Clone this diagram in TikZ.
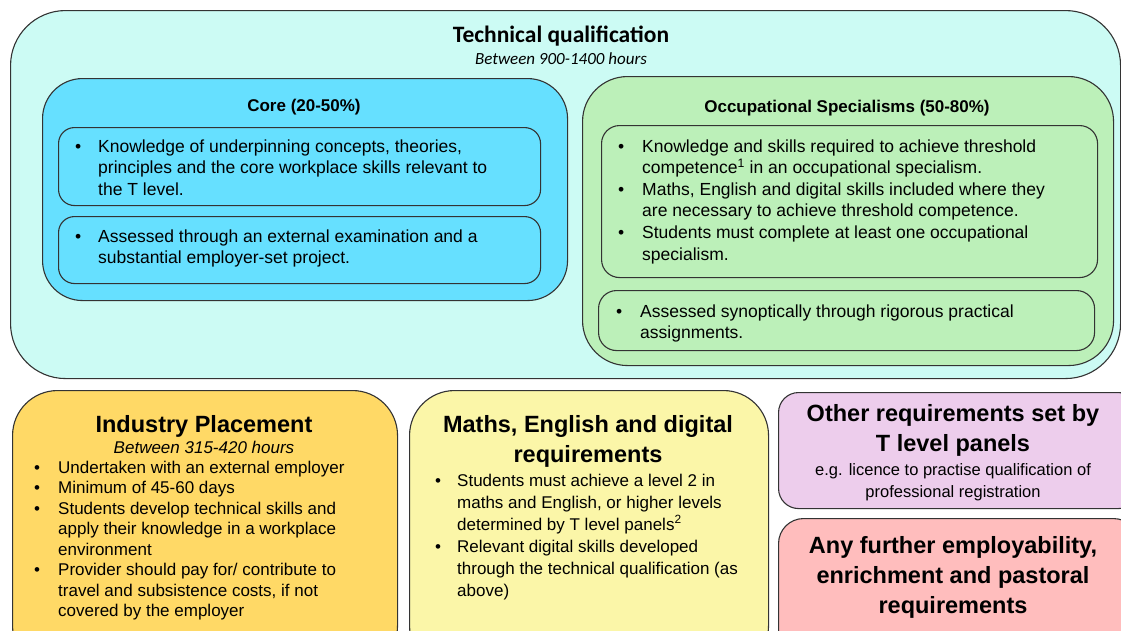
\documentclass[tikz,border=0pt]{standalone}
\usepackage{fontspec}
\setmainfont{Liberation Sans}
\newfontfamily\calibri{Carlito}
\usepackage{tikz}

\definecolor{techbg}{RGB}{204,251,244}
\definecolor{corebg}{RGB}{102,224,255}
\definecolor{occbg}{RGB}{188,240,185}
\definecolor{placebg}{RGB}{255,217,102}
\definecolor{mathsbg}{RGB}{251,246,168}
\definecolor{otherbg}{RGB}{237,205,236}
\definecolor{furtherbg}{RGB}{255,189,189}

\newcommand{\bl}{\textbullet}

\begin{document}
\begin{tikzpicture}[x=1pt,y=-1pt,
  panel/.style={draw=black!80, line width=1.1pt, anchor=north west, inner sep=0pt},
  txt/.style={anchor=base west, inner sep=0pt, align=left},
  head/.style={anchor=base, inner sep=0pt}]
\useasboundingbox (0,0) rectangle (1121,630);
\clip (0,0) rectangle (1121,630);

% technical qualification
\node[panel, fill=techbg, rounded corners=55pt, minimum width=1110pt, minimum height=368pt] (tq) at (10,10) {};
\node[head, font=\calibri\bfseries\fontsize{23.5}{28}\selectfont] (tqtitle) at (561,42) {Technical qualification};
\node[head, font=\calibri\itshape\fontsize{17}{20}\selectfont] (tqhours) at (561,64) {Between 900-1400 hours};

% core
\node[panel, fill=corebg, rounded corners=40pt, minimum width=525pt, minimum height=222pt] (core) at (42,78) {};
\node[panel, rounded corners=16pt, minimum width=482pt, minimum height=78pt] (core1) at (58,127) {};
\node[panel, rounded corners=16pt, minimum width=482pt, minimum height=67pt] (core2) at (58,216) {};
\node[head, font=\bfseries\fontsize{17}{20}\selectfont] (coretitle) at (304,111) {Core (20-50\%)};
\node[txt, font=\fontsize{17.5}{21.6}\selectfont] (coretxt1) at (75,152) {\begin{tabular}[t]{@{}p{23pt}@{}l@{}}
  \bl & Knowledge of underpinning concepts, theories,\\
      & principles and the core workplace skills relevant to\\
      & the T level.\end{tabular}};
\node[txt, font=\fontsize{17.5}{21.6}\selectfont] (coretxt2) at (75,242) {\begin{tabular}[t]{@{}p{23pt}@{}l@{}}
  \bl & Assessed through an external examination and a\\
      & substantial employer-set project.\end{tabular}};

% occupational specialisms
\node[panel, fill=occbg, rounded corners=45pt, minimum width=531pt, minimum height=289pt] (occ) at (582,76) {};
\node[panel, rounded corners=18pt, minimum width=496pt, minimum height=152pt] (occ1) at (601,125) {};
\node[panel, rounded corners=18pt, minimum width=496pt, minimum height=60pt] (occ2) at (598,290) {};
\node[head, font=\bfseries\fontsize{17}{20}\selectfont] (occtitle) at (847,112) {Occupational Specialisms (50-80\%)};
\node[txt, font=\fontsize{17.5}{21.6}\selectfont] (occtxt1) at (618,152) {\begin{tabular}[t]{@{}p{24pt}@{}l@{}}
  \bl & Knowledge and skills required to achieve threshold\\
      & competence\textsuperscript{1} in an occupational specialism.\\
  \bl & Maths, English and digital skills included where they\\
      & are necessary to achieve threshold competence.\\
  \bl & Students must complete at least one occupational\\
      & specialism.\end{tabular}};
\node[txt, font=\fontsize{17.5}{21.6}\selectfont] (occtxt2) at (616,317) {\begin{tabular}[t]{@{}p{24pt}@{}l@{}}
  \bl & Assessed synoptically through rigorous practical\\
      & assignments.\end{tabular}};

% industry placement
\node[panel, fill=placebg, rounded corners=45pt, minimum width=385pt, minimum height=280pt] (place) at (12,390) {};
\node[head, font=\bfseries\fontsize{23.5}{28}\selectfont] (placetitle) at (204,432) {Industry Placement};
\node[head, font=\itshape\fontsize{17}{20}\selectfont] (placehours) at (204,453) {Between 315-420 hours};
\node[txt, font=\fontsize{17}{20.5}\selectfont] (placetxt) at (34,473) {\begin{tabular}[t]{@{}p{24pt}@{}l@{}}
  \bl & Undertaken with an external employer\\
  \bl & Minimum of 45-60 days\\
  \bl & Students develop technical skills and\\
      & apply their knowledge in a workplace\\
      & environment\\
  \bl & Provider should pay for/ contribute to\\
      & travel and subsistence costs, if not\\
      & covered by the employer\end{tabular}};

% maths, english and digital
\node[panel, fill=mathsbg, rounded corners=45pt, minimum width=359pt, minimum height=280pt] (maths) at (409,390) {};
\node[head, font=\bfseries\fontsize{23.5}{30}\selectfont] (mathstitle) at (588,432) {\begin{tabular}[t]{@{}c@{}}
  Maths, English and digital\\ requirements\end{tabular}};
\node[txt, font=\fontsize{17}{22}\selectfont] (mathstxt) at (435,486) {\begin{tabular}[t]{@{}p{22pt}@{}l@{}}
  \bl & Students must achieve a level 2 in\\
      & maths and English, or higher levels\\
      & determined by T level panels\textsuperscript{2}\\
  \bl & Relevant digital skills developed\\
      & through the technical qualification (as\\
      & above)\end{tabular}};

% other requirements
\node[panel, fill=otherbg, rounded corners=20pt, minimum width=360pt, minimum height=116pt] (other) at (778,392) {};
\node[head, font=\bfseries\fontsize{23.5}{30}\selectfont] (othertitle) at (953,421) {\begin{tabular}[t]{@{}c@{}}
  Other requirements set by\\ T level panels\end{tabular}};
\node[head, font=\fontsize{16.5}{22}\selectfont] (othertxt) at (953,475) {\begin{tabular}[t]{@{}c@{}}
  e.g. licence to practise qualification of\\ professional registration\end{tabular}};

% further requirements
\node[panel, fill=furtherbg, rounded corners=25pt, minimum width=360pt, minimum height=140pt] (further) at (778,518) {};
\node[head, font=\bfseries\fontsize{23.5}{30}\selectfont] (furthertitle) at (953,553) {\begin{tabular}[t]{@{}c@{}}
  Any further employability,\\ enrichment and pastoral\\ requirements\end{tabular}};

\end{tikzpicture}
\end{document}
